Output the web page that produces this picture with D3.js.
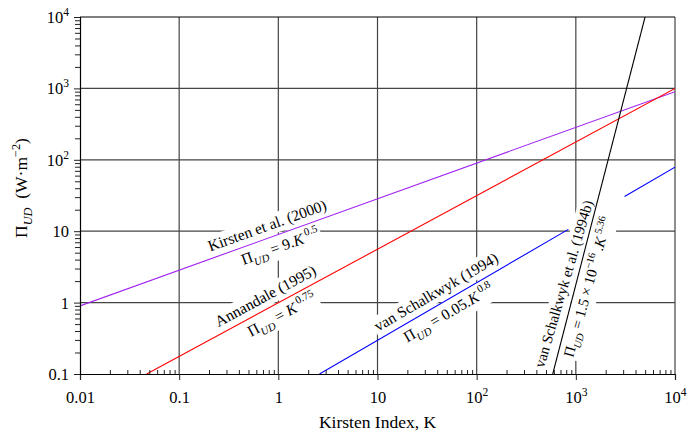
<!DOCTYPE html>
<html>
<head>
<meta charset="utf-8">
<script src="https://cdn.jsdelivr.net/npm/d3@7"></script>
<style>
  body { margin: 0; background: #fff; }
  svg text { font-family: "Liberation Serif", "DejaVu Serif", "Times New Roman", serif !important; fill: #000; white-space: pre; }
</style>
</head>
<body>
<script>
// values (Kirsten index K vs stream power Pi_UD)
const kirstenK = [0.01, 10000];
const kirstenPi = [0.9, 900];
const annandaleK = [0.047, 10000];
const annandalePi = [0.1, 1000];
// blue line is interrupted behind the 1994b labels (NaN = gap)
const schalkK = [2.6, 840, NaN, 3100, 10000];
const schalkPi = [0.1, 10.6, NaN, 30.6, 79];
const schalkBK = [585, 4990];
const schalkBPi = [0.1, 10000];

const xTicks = [0.01, 0.1, 1, 10, 100, 1000, 10000];
const xTickLabels = [["0.01"], ["0.1"], ["1"], ["10"], ["10", "2"], ["10", "3"], ["10", "4"]];
const yTicks = [0.1, 1, 10, 100, 1000, 10000];
const yTickLabels = [["0.1"], ["1"], ["10"], ["10", "2"], ["10", "3"], ["10", "4"]];

const W = 691, H = 432;
const pL = 80, pR = 675, pT = 17, pB = 374;
const serif = "Liberation Serif, DejaVu Serif, serif";

const x = d3.scaleLog().domain([0.01, 1e4]).range([pL, pR]);
const y = d3.scaleLog().domain([0.1, 1e4]).range([pB, pT]);

const svg = d3.select("body").append("svg").attr("width", W).attr("height", H)
  .attr("font-family", serif);

svg.append("defs").append("clipPath").attr("id", "plot")
  .append("rect").attr("x", pL).attr("y", pT).attr("width", pR - pL).attr("height", pB - pT);

const gGrid = svg.append("g");
const gBoxes = svg.append("g");
const gLines = svg.append("g").attr("clip-path", "url(#plot)");
const gText = svg.append("g");
const gAxes = svg.append("g");

// grid
const gridColor = "#444";
gGrid.selectAll(".vx").data(xTicks.slice(1)).join("line")
  .attr("x1", d => x(d)).attr("x2", d => x(d)).attr("y1", pT).attr("y2", pB)
  .attr("stroke", gridColor).attr("stroke-width", 1.2);
gGrid.selectAll(".hy").data(yTicks.slice(1, -1)).join("line")
  .attr("x1", pL).attr("x2", pR).attr("y1", d => y(d)).attr("y2", d => y(d))
  .attr("stroke", gridColor).attr("stroke-width", 1.2);

// series
const series = [
  { k: kirstenK, p: kirstenPi, color: "#a020f0" },
  { k: annandaleK, p: annandalePi, color: "#ff0000" },
  { k: schalkK, p: schalkPi, color: "#0000ff" },
  { k: schalkBK, p: schalkBPi, color: "#000000" }
];
const line = d3.line().defined(d => !isNaN(d[0])).x(d => x(d[0])).y(d => y(d[1]));
series.forEach(s => {
  gLines.append("path")
    .attr("d", line(d3.zip(s.k, s.p)))
    .attr("fill", "none").attr("stroke", s.color).attr("stroke-width", 1.1);
});

// rich text helper: parts with sub / sup / italic
function rich(text, parts, size) {
  let shift = 0;
  text.attr("font-family", serif);
  parts.forEach(p => {
    const target = p.sub ? size * 0.3 : p.sup ? -size * 0.42 : 0;
    text.append("tspan")
      .attr("dy", target - shift)
      .attr("font-size", (p.sub || p.sup) ? size * 0.7 : size)
      .attr("font-style", p.it ? "italic" : "normal")
      .text(p.t);
    shift = target;
  });
}

const PI = [{ t: "\u03A0" }, { t: "UD", sub: true, it: true }];
const labels = [
  { s: 0, k: 0.85, off: -7, parts: [{ t: "Kirsten et al. (2000)" }] },
  { s: 0, k: 0.95, off: 17, parts: [...PI, { t: " = 9." }, { t: "K", it: true }, { t: " 0.5", sup: true }] },
  { s: 1, k: 0.85, off: -7, parts: [{ t: "Annandale (1995)" }] },
  { s: 1, k: 0.95, off: 17, parts: [...PI, { t: " = " }, { t: "K", it: true }, { t: " 0.75", sup: true }] },
  { s: 2, k: 45, off: -7, parts: [{ t: "van Schalkwyk (1994)" }] },
  { s: 2, k: 45, off: 17, parts: [...PI, { t: " = 0.05." }, { t: "K", it: true }, { t: " 0.8", sup: true }] },
  { s: 3, k: 985, off: -7, rot: -73.5, size: 14.8, bridge: true, parts: [{ t: "van Schalkwyk et al. (1994b)" }] },
  { s: 3, k: 1005, off: 17, rot: -74.5, size: 14.8, bridge: true, parts: [...PI, { t: " = 1.5 \u00D7 10" }, { t: "\u221216", sup: true }, { t: " ." }, { t: "K", it: true }, { t: " 5.36", sup: true }] }
];

labels.forEach(l => {
  const s = series[l.s];
  const n = s.k.length - 1;
  const x0 = x(s.k[0]), x1 = x(s.k[n]), y0 = y(s.p[0]), y1 = y(s.p[n]);
  const ang = l.rot !== undefined ? l.rot : Math.atan2(y1 - y0, x1 - x0) * 180 / Math.PI;
  const px = x(l.k);
  const py = y0 + (px - x0) * (y1 - y0) / (x1 - x0);
  const tr = `translate(${px},${py}) rotate(${ang})`;
  const g = gText.append("g").attr("transform", tr);
  const t = g.append("text").attr("text-anchor", "middle").attr("y", l.off);
  rich(t, l.parts, l.size || 15.5);
  const b = t.node().getBBox();
  let y0b = b.y - 1, y1b = b.y + b.height + 1;
  if (l.bridge) { y0b = Math.min(y0b, 0); y1b = Math.max(y1b, 0); }
  gBoxes.append("rect").attr("transform", tr)
    .attr("x", b.x - 2).attr("y", y0b).attr("width", b.width + 4).attr("height", y1b - y0b)
    .attr("fill", "#fff");
});

// axes
const minor = [];
for (let e = -2; e < 4; e++) for (let m = 2; m <= 9; m++) minor.push(m * Math.pow(10, e));
const minorY = minor.filter(d => d > 0.1);

const xAxis = gAxes.append("g").attr("transform", `translate(0,${pB})`)
  .call(d3.axisBottom(x).tickValues(xTicks).tickSize(6).tickFormat(""));
gAxes.append("g").attr("transform", `translate(0,${pB})`)
  .call(d3.axisTop(x).tickValues(minor).tickSize(4).tickFormat(""))
  .call(g => g.select(".domain").remove());
const yAxis = gAxes.append("g").attr("transform", `translate(${pL},0)`)
  .call(d3.axisLeft(y).tickValues(yTicks).tickSize(6).tickFormat(""));
gAxes.append("g").attr("transform", `translate(${pL},0)`)
  .call(d3.axisLeft(y).tickValues(minorY).tickSize(5).tickFormat(""))
  .call(g => g.select(".domain").remove());
gAxes.selectAll("g").attr("font-family", serif);
gAxes.selectAll(".domain").attr("stroke", "#000").attr("stroke-width", 1.2);
gAxes.selectAll(".tick line").attr("stroke", "#222").attr("stroke-width", 1);
gAxes.append("line").attr("x1", pL).attr("x2", pR).attr("y1", pT).attr("y2", pT)
  .attr("stroke", "#000").attr("stroke-width", 1.2);

function tickLabel(t, lab) {
  rich(t, lab.length > 1 ? [{ t: lab[0] }, { t: lab[1], sup: true }] : [{ t: lab[0] }], 16.5);
}
xAxis.selectAll(".tick").each(function (d, i) {
  const t = d3.select(this).append("text").attr("text-anchor", "middle").attr("y", 29);
  tickLabel(t, xTickLabels[i]);
});
yAxis.selectAll(".tick").each(function (d, i) {
  const t = d3.select(this).append("text").attr("text-anchor", "end").attr("x", -11).attr("y", 5.5);
  tickLabel(t, yTickLabels[i]);
});

// axis titles
svg.append("text").attr("x", (pL + pR) / 2).attr("y", 428).attr("text-anchor", "middle")
  .attr("font-family", serif).attr("font-size", 17.5).text("Kirsten Index, K");
const yt = svg.append("text").attr("transform", "translate(27,188) rotate(-90)").attr("text-anchor", "middle");
rich(yt, [...PI, { t: "  (W\u00B7m" }, { t: "\u22122", sup: true }, { t: ")" }], 17.5);
</script>
</body>
</html>
